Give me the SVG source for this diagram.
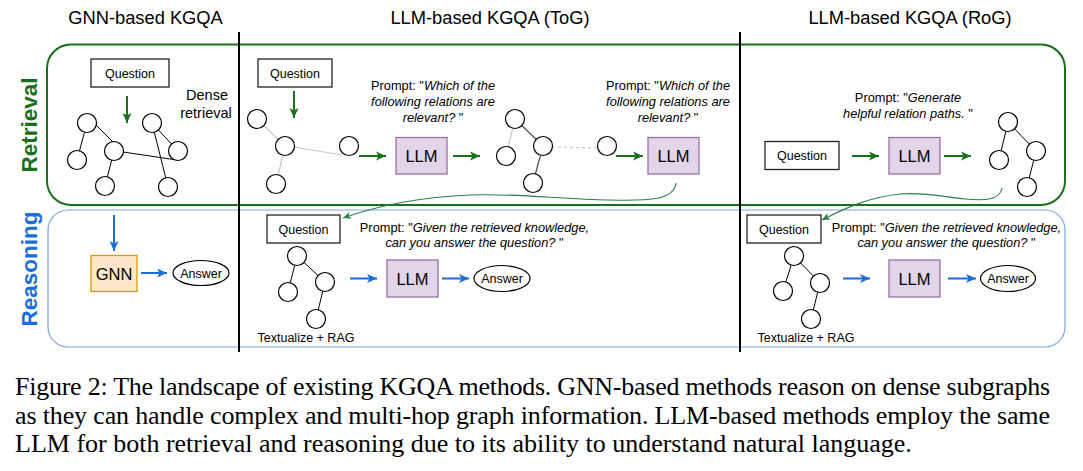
<svg xmlns="http://www.w3.org/2000/svg" width="1083" height="471" viewBox="0 0 1083 471">
<style>
text{font-family:"Liberation Sans",Arial,sans-serif;fill:#000}
.hdr{font-size:18.3px;text-anchor:middle}
.q{font-size:12.5px;text-anchor:middle}
.big{font-size:16.5px;text-anchor:middle}
.pr{font-size:12.8px;text-anchor:middle}
.it{font-style:italic}
.box{fill:#fff;stroke:#222;stroke-width:1.3}
.llm{fill:#e1d5e7;stroke:#9673a6;stroke-width:1.3}
.gnn{fill:#ffe6cc;stroke:#d79b00;stroke-width:1.3}
.nd{fill:#fff;stroke:#000;stroke-width:1.2}
.e{stroke:#000;stroke-width:1}
.eg{stroke:#c8c8c8;stroke-width:1.2}
.ed{stroke:#555;stroke-width:1.3}
.ga{stroke:#1b701b;stroke-width:2;fill:none;marker-end:url(#ag)}
.ba{stroke:#1a6fd6;stroke-width:2;fill:none;marker-end:url(#ab)}
.ca{stroke:#2b7d4a;stroke-width:1.1;fill:none;marker-end:url(#ac)}
.cap{font-family:"Liberation Serif","Times New Roman",serif;font-size:26px}
</style>
<defs>
<marker id="ag" markerUnits="userSpaceOnUse" markerWidth="10" markerHeight="10" viewBox="0 0 10 10" refX="10" refY="5" orient="auto"><path d="M0,0.5 L10,5 L0,9.5 L2.5,5 z" fill="#1b701b"/></marker>
<marker id="ab" markerUnits="userSpaceOnUse" markerWidth="10" markerHeight="10" viewBox="0 0 10 10" refX="10" refY="5" orient="auto"><path d="M0,0.5 L10,5 L0,9.5 L2.5,5 z" fill="#1a6fd6"/></marker>
<marker id="ac" markerUnits="userSpaceOnUse" markerWidth="8" markerHeight="8" viewBox="0 0 10 10" refX="10" refY="5" orient="auto"><path d="M0,0.5 L10,5 L0,9.5 L2.5,5 z" fill="#2b7d4a"/></marker>
</defs>

<!-- panels -->
<g id="retrieval-panel">
<rect x="47" y="44.5" width="1018" height="160.5" rx="24" fill="none" stroke="#1b701b" stroke-width="2"/>
<text transform="translate(37,125) rotate(-90)" style="font-size:22.5px;font-weight:bold;fill:#1b701b;text-anchor:middle">Retrieval</text>
</g>
<g id="reasoning-panel">
<rect x="48" y="210" width="1017" height="137" rx="20" fill="none" stroke="#7ea6e0" stroke-width="1.2"/>
<text transform="translate(37,269) rotate(-90)" style="font-size:22.5px;font-weight:bold;fill:#1a6fd6;text-anchor:middle">Reasoning</text>
</g>
<g id="dividers">
<line x1="239" y1="32" x2="239" y2="352" stroke="#000" stroke-width="2"/>
<line x1="740" y1="32" x2="740" y2="352" stroke="#000" stroke-width="2"/>
</g>
<g id="headers">
<text class="hdr" x="145.5" y="24">GNN-based KGQA</text>
<text class="hdr" x="490" y="24">LLM-based KGQA (ToG)</text>
<text class="hdr" x="910" y="24">LLM-based KGQA (RoG)</text>
</g>

<!-- connectors -->
<g id="connectors">
<line class="ga" x1="127" y1="96" x2="127" y2="123"/>
<line class="ga" x1="294" y1="91" x2="294" y2="118"/>
<line class="ga" x1="359" y1="156" x2="386" y2="156"/>
<line class="ga" x1="453" y1="156" x2="480" y2="156"/>
<line class="ga" x1="616" y1="156" x2="643" y2="156"/>
<line class="ga" x1="852" y1="156" x2="879" y2="156"/>
<line class="ga" x1="944" y1="156" x2="971" y2="156"/>
<line class="ba" x1="114" y1="215" x2="114" y2="251"/>
<line class="ba" x1="141" y1="273" x2="167" y2="273"/>
<line class="ba" x1="350" y1="278.5" x2="377" y2="278.5"/>
<line class="ba" x1="442" y1="278.5" x2="469" y2="278.5"/>
<line class="ba" x1="843" y1="278.5" x2="870" y2="278.5"/>
<line class="ba" x1="948" y1="278.5" x2="976" y2="278.5"/>
<path class="ca" d="M676,183 C674,200 650,201 610,200 C560,199 510,193 470,195 C420,197 380,205 343,218"/>
<path class="ca" d="M1002,188 C1000,200 985,201 965,199 C945,197 925,192 900,194 C870,197 845,208 822,220"/>
</g>

<!-- GNN column -->
<g id="q-gnn"><rect class="box" x="91" y="59" width="78" height="28"/><text class="q" x="130" y="77.5">Question</text></g>
<g id="dense-label"><text style="font-size:14.5px;text-anchor:middle" x="207" y="100">Dense</text><text style="font-size:14.5px;text-anchor:middle" x="206" y="118">retrieval</text></g>
<g id="graph-dense">
<line class="e" x1="87" y1="123" x2="77" y2="160"/>
<line class="e" x1="96" y1="125" x2="113" y2="142"/>
<line class="e" x1="114" y1="151" x2="105" y2="186"/>
<line class="e" x1="123" y1="152" x2="177" y2="160"/>
<line class="e" x1="152" y1="123" x2="178" y2="151"/>
<line class="e" x1="152" y1="123" x2="168" y2="187"/>
<circle class="nd" cx="87" cy="123" r="9.5"/>
<circle class="nd" cx="77" cy="160" r="9.5"/>
<circle class="nd" cx="114" cy="151" r="9.5"/>
<circle class="nd" cx="152" cy="123" r="9.5"/>
<circle class="nd" cx="178" cy="151" r="9.5"/>
<circle class="nd" cx="105" cy="186" r="9.5"/>
<circle class="nd" cx="168" cy="187" r="9.5"/>
</g>
<g id="gnn"><rect class="gnn" x="91" y="255.5" width="46" height="36"/><text class="big" x="114" y="279.5">GNN</text></g>
<g id="ans-gnn"><ellipse class="nd" cx="201" cy="273" rx="28" ry="12.5"/><text class="q" x="201" y="277.5">Answer</text></g>

<!-- ToG column -->
<g id="q-tog"><rect class="box" x="258" y="59" width="74" height="28"/><text class="q" x="295" y="77.5">Question</text></g>
<g id="graph-tog-1">
<line class="eg" x1="257" y1="119" x2="285" y2="146"/>
<line class="eg" x1="294" y1="147" x2="342" y2="155"/>
<line class="eg" x1="285" y1="146" x2="276" y2="184"/>
<circle class="nd" cx="257" cy="119" r="9.5"/>
<circle class="nd" cx="285" cy="146" r="9.5"/>
<circle class="nd" cx="349" cy="146" r="9.5"/>
<circle class="nd" cx="276" cy="184" r="9.5"/>
</g>
<g id="prompt-tog-1">
<text class="pr" x="433" y="90">Prompt: "<tspan class="it">Which of the</tspan></text>
<text class="pr it" x="433" y="106">following relations are</text>
<text class="pr" x="433" y="122"><tspan class="it">relevant? </tspan>"</text>
</g>
<g id="llm-tog-1"><rect class="llm" x="396" y="137.5" width="51" height="36.5"/><text class="big" x="421.5" y="161.5">LLM</text></g>
<g id="graph-tog-2">
<line class="eg" x1="515" y1="119" x2="506" y2="156"/>
<line class="ed" x1="515" y1="119" x2="543" y2="146"/>
<line class="ed" x1="543" y1="146" x2="533" y2="183"/>
<line class="eg" x1="552" y1="147" x2="598" y2="148" stroke-dasharray="3,3"/>
<circle class="nd" cx="515" cy="119" r="9.5"/>
<circle class="nd" cx="506" cy="156" r="9.5"/>
<circle class="nd" cx="543" cy="146" r="9.5"/>
<circle class="nd" cx="533" cy="183" r="9.5"/>
<circle class="nd" cx="607" cy="146" r="9.5"/>
</g>
<g id="prompt-tog-2">
<text class="pr" x="668" y="90">Prompt: "<tspan class="it">Which of the</tspan></text>
<text class="pr it" x="668" y="106">following relations are</text>
<text class="pr" x="668" y="122"><tspan class="it">relevant? </tspan>"</text>
</g>
<g id="llm-tog-2"><rect class="llm" x="648" y="137.5" width="51" height="36.5"/><text class="big" x="673.5" y="161.5">LLM</text></g>
<g id="q-tog-r"><rect class="box" x="267" y="215" width="73" height="28"/><text class="q" x="303.5" y="233.5">Question</text></g>
<g id="prompt-tog-r">
<text class="pr" x="474.5" y="232">Prompt: "<tspan class="it">Given the retrieved knowledge,</tspan></text>
<text class="pr" x="474.5" y="247"><tspan class="it">can you answer the question? </tspan>"</text>
</g>
<g id="tree-tog">
<line class="e" x1="297" y1="256" x2="288" y2="292"/>
<line class="e" x1="297" y1="256" x2="325" y2="282"/>
<line class="e" x1="325" y1="282" x2="316" y2="319"/>
<circle class="nd" cx="297" cy="256" r="9.5"/>
<circle class="nd" cx="288" cy="292" r="9.5"/>
<circle class="nd" cx="325" cy="282" r="9.5"/>
<circle class="nd" cx="316" cy="319" r="9.5"/>
<text class="q" x="306" y="342">Textualize + RAG</text>
</g>
<g id="llm-tog-r"><rect class="llm" x="387" y="260" width="51" height="37"/><text class="big" x="412.5" y="284.5">LLM</text></g>
<g id="ans-tog"><ellipse class="nd" cx="502" cy="278.5" rx="28" ry="13"/><text class="q" x="502" y="283">Answer</text></g>

<!-- RoG column -->
<g id="prompt-rog-1">
<text class="pr" x="908" y="102">Prompt: "<tspan class="it">Generate</tspan></text>
<text class="pr" x="908" y="118"><tspan class="it">helpful relation paths. </tspan>"</text>
</g>
<g id="q-rog"><rect class="box" x="765" y="141.5" width="74" height="28"/><text class="q" x="802" y="160">Question</text></g>
<g id="llm-rog-1"><rect class="llm" x="889" y="137.5" width="51" height="36.5"/><text class="big" x="914.5" y="161.5">LLM</text></g>
<g id="graph-rog">
<line class="e" x1="1008" y1="122" x2="999" y2="160"/>
<line class="e" x1="1008" y1="122" x2="1036" y2="151"/>
<line class="e" x1="1036" y1="151" x2="1027" y2="187"/>
<circle class="nd" cx="1008" cy="122" r="9.5"/>
<circle class="nd" cx="999" cy="160" r="9.5"/>
<circle class="nd" cx="1036" cy="151" r="9.5"/>
<circle class="nd" cx="1027" cy="187" r="9.5"/>
</g>
<g id="q-rog-r"><rect class="box" x="747" y="215" width="74" height="28"/><text class="q" x="784" y="233.5">Question</text></g>
<g id="prompt-rog-r">
<text class="pr" x="946.5" y="232">Prompt: "<tspan class="it">Given the retrieved knowledge,</tspan></text>
<text class="pr" x="946.5" y="247"><tspan class="it">can you answer the question? </tspan>"</text>
</g>
<g id="tree-rog">
<line class="e" x1="794" y1="256" x2="783" y2="291"/>
<line class="e" x1="794" y1="256" x2="820" y2="283"/>
<line class="e" x1="820" y1="283" x2="811" y2="319"/>
<circle class="nd" cx="794" cy="256" r="9.5"/>
<circle class="nd" cx="783" cy="291" r="9.5"/>
<circle class="nd" cx="820" cy="283" r="9.5"/>
<circle class="nd" cx="811" cy="319" r="9.5"/>
<text class="q" x="806" y="342">Textualize + RAG</text>
</g>
<g id="llm-rog-r"><rect class="llm" x="889" y="260" width="51" height="37"/><text class="big" x="914.5" y="284.5">LLM</text></g>
<g id="ans-rog"><ellipse class="nd" cx="1008" cy="278.5" rx="27.5" ry="13"/><text class="q" x="1008" y="283">Answer</text></g>

<!-- caption -->
<g id="caption">
<text class="cap" x="15" y="395" textLength="1035" lengthAdjust="spacing">Figure 2: The landscape of existing KGQA methods. GNN-based methods reason on dense subgraphs</text>
<text class="cap" x="15" y="424" textLength="1035" lengthAdjust="spacing">as they can handle complex and multi-hop graph information. LLM-based methods employ the same</text>
<text class="cap" x="15" y="452">LLM for both retrieval and reasoning due to its ability to understand natural language.</text>
</g>
</svg>
